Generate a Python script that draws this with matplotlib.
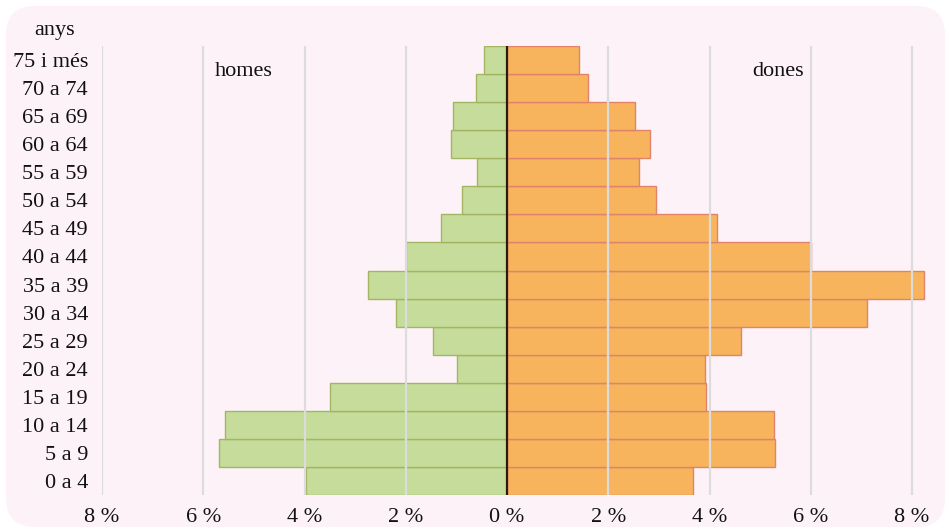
import numpy as np
import matplotlib.pyplot as plt
from matplotlib.patches import FancyBboxPatch

# age groups, bottom to top
groups = ['0 a 4', '5 a 9', '10 a 14', '15 a 19', '20 a 24', '25 a 29', '30 a 34',
          '35 a 39', '40 a 44', '45 a 49', '50 a 54', '55 a 59', '60 a 64',
          '65 a 69', '70 a 74', '75 i més']
homes = [3.97, 5.69, 5.57, 3.50, 0.99, 1.46, 2.19, 2.75, 2.00, 1.30, 0.89, 0.59,
         1.11, 1.07, 0.61, 0.45]
dones = [3.68, 5.30, 5.28, 3.93, 3.91, 4.62, 7.11, 8.24, 6.00, 4.15, 2.94, 2.61,
         2.83, 2.53, 1.60, 1.42]
xticks = [-8, -6, -4, -2, 0, 2, 4, 6, 8]
xlabels = ['8 %', '6 %', '4 %', '2 %', '0 %', '2 %', '4 %', '6 %', '8 %']

plt.rcParams['font.family'] = ['Liberation Serif', 'DejaVu Serif']

W, H = 949, 532
fig = plt.figure(figsize=(W / 100, H / 100), dpi=100, facecolor='white')
bg = FancyBboxPatch((6 / W, 5 / H), 939 / W, 521 / H,
                    boxstyle='round,pad=0,rounding_size=0.03',
                    transform=fig.transFigure, facecolor='#fdf2f8',
                    edgecolor='none', zorder=-5, mutation_aspect=W / H)
fig.patches.append(bg)

xmin, xmax = -8, 8.4
ppu = (912 - 102) / 16.0
left = 102
right = 507 + xmax * ppu
ax = fig.add_axes([left / W, (H - 495) / H, (right - left) / W, (495 - 46) / H])
ax.set_facecolor('none')

y = np.arange(len(groups))
ax.barh(y, [-v for v in homes], height=1.0, color='#c6dc9a', edgecolor='#a3b562',
        linewidth=1.0, zorder=1)
ax.barh(y, dones, height=1.0, color='#f7b45c', edgecolor='#e0836a',
        linewidth=1.0, zorder=1)

for t in xticks:
    if t != 0:
        ax.axvline(t, color='#dcdcdc', lw=1.6, zorder=2)
ax.axvline(0, color='#2a1a10', lw=1.6, zorder=3)

ax.set_xlim(xmin, xmax)
ax.set_ylim(-0.5, len(groups) - 0.5)
ax.set_xticks(xticks)
ax.set_xticklabels(xlabels)
ax.set_yticks(y)
ax.set_yticklabels(groups)
ax.tick_params(axis='both', length=0, labelsize=16, colors='#111111')
ax.tick_params(axis='y', pad=10)
ax.tick_params(axis='x', pad=9)
for s in ax.spines.values():
    s.set_visible(False)

fig.text(55 / W, 1 - 30 / H, 'anys', ha='center', va='center', fontsize=16, color='#111111')
fig.text(244 / W, 1 - 72 / H, 'homes', ha='center', va='center', fontsize=16, color='#111111')
fig.text(778 / W, 1 - 72 / H, 'dones', ha='center', va='center', fontsize=16, color='#111111')

fig.savefig('out.png', dpi=100, facecolor='white')
